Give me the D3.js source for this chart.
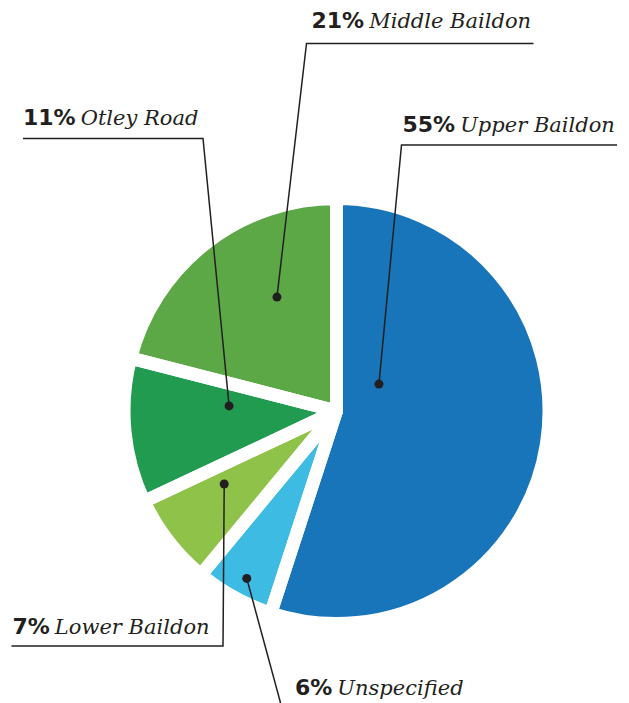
<!DOCTYPE html>
<html>
<head>
<meta charset="utf-8">
<script src="https://cdn.jsdelivr.net/npm/d3@7"></script>
<style>
  html, body { margin: 0; padding: 0; background: #fff; }
  svg { display: block; }
</style>
</head>
<body>
<svg id="chart" width="629" height="703"></svg>
<script>
// Survey responses by area (percent), clockwise from 12 o'clock
const areas = ["Upper Baildon", "Unspecified", "Lower Baildon", "Otley Road", "Middle Baildon"];
const shares = [55, 6, 7, 11, 21];
const sliceColors = ["#1975b9", "#3dbbe3", "#8fc249", "#219b50", "#5ca846"];

// Callout layout: text origin, underline span and where the dot sits inside each slice
// (t = fraction across the slice's angle, r = fraction of the radius)
const callouts = [
  { tx: 402.5, ty: 131.5, line: [[617, 145], [401.5, 145]], t: 0.291, r: 0.244 },
  { tx: 295,   ty: 695,   line: [[283, 712]],              t: 0.472, r: 0.922 },
  { tx: 12.5,  ty: 634,   line: [[11.5, 646], [223, 646]], t: 0.69,  r: 0.65 },
  { tx: 23,    ty: 125,   line: [[23, 138.5], [203, 138.5]], t: 0.705, r: 0.522 },
  { tx: 311.5, ty: 28,    line: [[533.5, 43.5], [306.5, 43.5]], t: 0.635, r: 0.624 }
];

const svg = d3.select("#chart");
const cx = 336.5, cy = 411;
const radius = 206;   // visible radius
const gap = 13;       // white separation between slices

const pie = d3.pie().sort(null).value(d => d.value).startAngle(0).endAngle(2 * Math.PI);
const slices = pie(areas.map((a, i) => ({ name: a, value: shares[i], color: sliceColors[i] })));

const arc = d3.arc().innerRadius(0).outerRadius(radius + gap / 2);

const g = svg.append("g").attr("transform", `translate(${cx},${cy})`);

// fills first, then white separators on top
g.selectAll("path.fill")
  .data(slices)
  .join("path")
  .attr("class", "fill")
  .attr("d", arc)
  .attr("fill", d => d.data.color);

g.selectAll("path.sep")
  .data(slices)
  .join("path")
  .attr("class", "sep")
  .attr("d", arc)
  .attr("fill", "none")
  .attr("stroke", "#fff")
  .attr("stroke-width", gap)
  .attr("stroke-linejoin", "round");

// callouts
const ink = "#231f20";
const lab = svg.append("g");

slices.forEach((s, i) => {
  const c = callouts[i];
  const ang = s.startAngle + c.t * (s.endAngle - s.startAngle);
  const rr = c.r * radius;
  const dx = cx + rr * Math.sin(ang);
  const dy = cy - rr * Math.cos(ang);

  const pts = c.line.concat([[dx, dy]]);
  lab.append("path")
    .attr("d", d3.line()(pts))
    .attr("fill", "none")
    .attr("stroke", ink)
    .attr("stroke-width", 1.5);

  lab.append("circle")
    .attr("cx", dx).attr("cy", dy).attr("r", 4.5)
    .attr("fill", ink);

  const t = lab.append("text")
    .attr("x", c.tx).attr("y", c.ty)
    .attr("fill", ink);
  t.append("tspan")
    .attr("font-family", "'DejaVu Sans', sans-serif")
    .attr("font-weight", "bold")
    .attr("font-size", 22)
    .text(s.data.value + "%");
  t.append("tspan")
    .attr("dx", 5)
    .attr("font-family", "'DejaVu Serif', serif")
    .attr("font-style", "italic")
    .attr("font-size", 21)
    .text(s.data.name);
});
</script>
</body>
</html>
